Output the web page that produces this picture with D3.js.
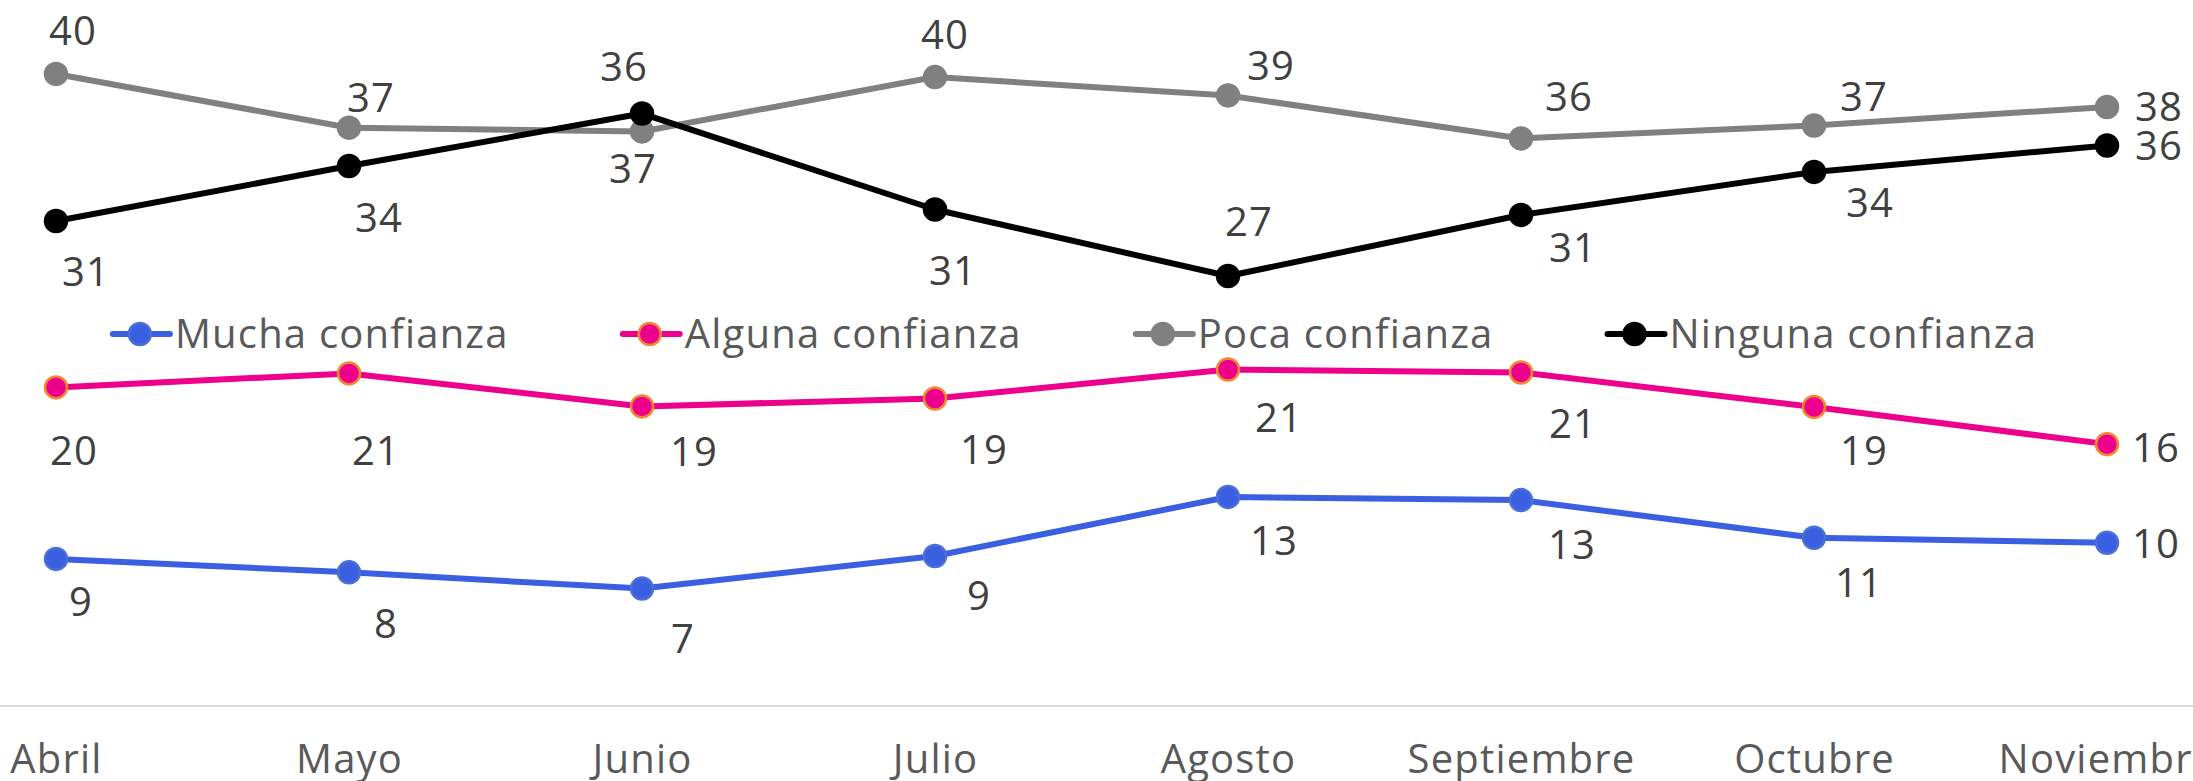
<!DOCTYPE html>
<html>
<head>
<meta charset="utf-8">
<script src="https://cdn.jsdelivr.net/npm/d3@7"></script>
<style>
  html, body { margin: 0; padding: 0; background: #fff; }
  svg { display: block; }
  text { font-family: "Open Sans", "Noto Sans", sans-serif; letter-spacing: 1.2px; }
</style>
</head>
<body>
<svg id="chart" width="2193" height="781"></svg>
<script>
// ---------- data ----------
const months = ["Abril", "Mayo", "Junio", "Julio", "Agosto", "Septiembre", "Octubre", "Noviembre"];
const seriesNames = ["Mucha confianza", "Alguna confianza", "Poca confianza", "Ninguna confianza"];

// plotted values
const mucha   = [8.86, 8.00, 6.96, 9.05, 12.84, 12.64, 10.22, 9.90];
const alguna  = [19.87, 20.77, 18.65, 19.16, 21.02, 20.83, 18.62, 16.23];
const poca    = [39.99, 36.54, 36.30, 39.79, 38.61, 35.85, 36.68, 37.87];
const ninguna = [30.55, 34.08, 37.45, 31.29, 27.02, 30.94, 33.70, 35.40];

// data labels as printed on the chart
const muchaLabels   = ["9", "8", "7", "9", "13", "13", "11", "10"];
const algunaLabels  = ["20", "21", "19", "19", "21", "21", "19", "16"];
const pocaLabels    = ["40", "37", "37", "40", "39", "36", "37", "38"];
const ningunaLabels = ["31", "34", "36", "31", "27", "31", "34", "36"];

// ---------- layout / style ----------
const W = 2193, H = 781;
const colors = ["#3a5fe0", "#ec008c", "#808080", "#000000"];
const markerStroke = ["#4a6fd6", "#f08a30", "#808080", "#000000"];
const labelOffsets = [
  [[25,43],[37,51],[41,50],[44,40],[46,44],[51,45],[45,45],[49,1]],
  [[18,63],[27,77],[52,45],[49,51],[51,48],[52,51],[50,44],[49,3]],
  [[17,-43],[22,-30],[-9,37],[10,-42],[43,-30],[48,-42],[50,-29],[52,0]],
  [[30,51],[30,52],[-18,-47],[18,61],[21,-54],[52,33],[56,31],[52,0]]
];

const svg = d3.select("#chart");

const x = d3.scalePoint().domain(months).range([56, 2107]);
const y = d3.scaleLinear().domain([0, 40]).range([697, 73.8]);

const allValues = [mucha, alguna, poca, ninguna];
const allLabels = [muchaLabels, algunaLabels, pocaLabels, ningunaLabels];

// x axis
const axisY = 706;
const xAxis = d3.axisBottom(x).tickSize(0).tickPadding(0);
const gx = svg.append("g").attr("transform", `translate(0,${axisY})`).call(xAxis);
gx.select(".domain").remove();
svg.append("line")
  .attr("x1", 0).attr("x2", W)
  .attr("y1", axisY).attr("y2", axisY)
  .attr("stroke", "#d9d9d9").attr("stroke-width", 2);
gx.selectAll("text")
  .attr("y", 67)
  .attr("dy", 0)
  .attr("fill", "#595959")
  .style("font-size", "40px");

// lines
const line = d3.line().x((d, i) => x(months[i])).y(d => y(d));
allValues.forEach((vals, s) => {
  const g = svg.append("g");
  g.append("path")
    .datum(vals)
    .attr("d", line)
    .attr("fill", "none")
    .attr("stroke", colors[s])
    .attr("stroke-width", 6)
    .attr("stroke-linejoin", "round");
  g.selectAll("circle")
    .data(vals)
    .join("circle")
    .attr("cx", (d, i) => x(months[i]))
    .attr("cy", d => y(d))
    .attr("r", 11)
    .attr("fill", colors[s])
    .attr("stroke", markerStroke[s])
    .attr("stroke-width", 2.5);
});

// data labels
allValues.forEach((vals, s) => {
  svg.append("g").selectAll("text")
    .data(vals)
    .join("text")
    .attr("x", (d, i) => x(months[i]) + labelOffsets[s][i][0])
    .attr("y", (d, i) => y(d) + labelOffsets[s][i][1])
    .attr("dy", "0.36em")
    .attr("text-anchor", "middle")
    .attr("fill", "#404040")
    .style("font-size", "40px")
    .text((d, i) => allLabels[s][i]);
});

// legend
const legendY = 334;
const legend = svg.append("g");
const items = legend.selectAll("g").data(seriesNames).join("g");
items.append("line")
  .attr("x1", 0).attr("x2", 57)
  .attr("y1", 0).attr("y2", 0)
  .attr("stroke", (d, i) => colors[i])
  .attr("stroke-width", 6)
  .attr("stroke-linecap", "round");
items.append("circle")
  .attr("cx", 27).attr("cy", 0).attr("r", 11)
  .attr("fill", (d, i) => colors[i])
  .attr("stroke", (d, i) => markerStroke[i])
  .attr("stroke-width", 2.5);
items.append("text")
  .attr("x", 62).attr("y", 0).attr("dy", "0.36em")
  .attr("fill", "#595959")
  .style("font-size", "40px")
  .text(d => d);
// flow layout
const gap = 114;
let widths = [];
items.each(function () {
  widths.push(62 + this.querySelector("text").getComputedTextLength());
});
const total = d3.sum(widths) + gap * (widths.length - 1);
let cx = 1075 - total / 2;
items.attr("transform", (d, i) => {
  const t = `translate(${cx},${legendY})`;
  cx += widths[i] + gap;
  return t;
});
</script>
</body>
</html>
